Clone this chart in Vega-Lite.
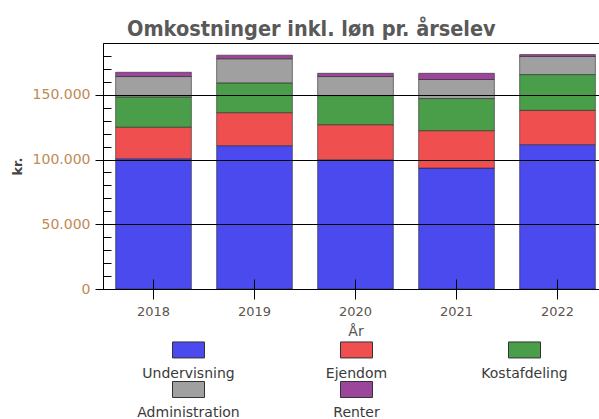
{
  "$schema": "https://vega.github.io/schema/vega-lite/v6.json",
  "autosize": {"type": "none"},
  "padding": {"left": 103, "top": 43, "right": 0, "bottom": 130},
  "width": 505,
  "height": 246,
  "background": "white",
  "title": {
    "text": "Omkostninger inkl. løn pr. årselev",
    "anchor": "start",
    "frame": "group",
    "dx": 24,
    "baseline": "alphabetic",
    "offset": -14,
    "font": "DejaVu Sans Condensed, DejaVu Sans",
    "fontSize": 21.5,
    "fontWeight": "bold",
    "color": "#595959"
  },
  "config": {
    "view": {"stroke": "#000", "strokeWidth": 1},
    "font": "DejaVu Sans"
  },
  "data": {
    "values": [
      {"year": "2018", "cat": "Undervisning", "ord": 1, "value": 100600},
      {"year": "2018", "cat": "Ejendom", "ord": 2, "value": 24400},
      {"year": "2018", "cat": "Kostafdeling", "ord": 3, "value": 23400},
      {"year": "2018", "cat": "Administration", "ord": 4, "value": 15700},
      {"year": "2018", "cat": "Renter", "ord": 5, "value": 3300},
      {"year": "2019", "cat": "Undervisning", "ord": 1, "value": 110700},
      {"year": "2019", "cat": "Ejendom", "ord": 2, "value": 25500},
      {"year": "2019", "cat": "Kostafdeling", "ord": 3, "value": 23000},
      {"year": "2019", "cat": "Administration", "ord": 4, "value": 18600},
      {"year": "2019", "cat": "Renter", "ord": 5, "value": 2800},
      {"year": "2020", "cat": "Undervisning", "ord": 1, "value": 99800},
      {"year": "2020", "cat": "Ejendom", "ord": 2, "value": 27100},
      {"year": "2020", "cat": "Kostafdeling", "ord": 3, "value": 22500},
      {"year": "2020", "cat": "Administration", "ord": 4, "value": 14700},
      {"year": "2020", "cat": "Renter", "ord": 5, "value": 2500},
      {"year": "2021", "cat": "Undervisning", "ord": 1, "value": 93400},
      {"year": "2021", "cat": "Ejendom", "ord": 2, "value": 28900},
      {"year": "2021", "cat": "Kostafdeling", "ord": 3, "value": 24800},
      {"year": "2021", "cat": "Administration", "ord": 4, "value": 14700},
      {"year": "2021", "cat": "Renter", "ord": 5, "value": 4800},
      {"year": "2022", "cat": "Undervisning", "ord": 1, "value": 111500},
      {"year": "2022", "cat": "Ejendom", "ord": 2, "value": 26500},
      {"year": "2022", "cat": "Kostafdeling", "ord": 3, "value": 27600},
      {"year": "2022", "cat": "Administration", "ord": 4, "value": 14000},
      {"year": "2022", "cat": "Renter", "ord": 5, "value": 1500}
    ]
  },
  "mark": {"type": "bar", "stroke": "#222", "strokeOpacity": 0.55, "strokeWidth": 1},
  "encoding": {
    "x": {
      "field": "year",
      "type": "nominal",
      "scale": {"paddingInner": 0.25, "paddingOuter": 0.125},
      "axis": {
        "title": "År",
        "titleFont": "DejaVu Sans",
        "titleFontSize": 14,
        "titleFontWeight": "normal",
        "titleColor": "#555",
        "titleBaseline": "alphabetic",
        "titleY": 56,
        "labelAngle": 0,
        "labelFont": "DejaVu Sans",
        "labelFontSize": 13,
        "labelColor": "#5e544c",
        "labelBaseline": "alphabetic",
        "labelPadding": 16,
        "domain": false,
        "offset": -10,
        "tickSize": 20,
        "tickColor": "#000",
        "zindex": 1
      }
    },
    "y": {
      "field": "value",
      "type": "quantitative",
      "stack": "zero",
      "scale": {"domain": [0, 190000], "nice": false},
      "axis": {
        "title": "kr.",
        "titleFont": "DejaVu Sans",
        "titleFontSize": 13,
        "titleFontWeight": "bold",
        "titleColor": "#444",
        "titleX": -86,
        "titleBaseline": "middle",
        "values": [0, 10000, 20000, 30000, 40000, 50000, 60000, 70000, 80000, 90000, 100000, 110000, 120000, 130000, 140000, 150000, 160000, 170000, 180000],
        "labelExpr": "datum.value % 50000 === 0 ? replace(format(datum.value, ','), ',', '.') : ''",
        "labelFont": "DejaVu Sans",
        "labelFontSize": 14,
        "labelColor": "#c08a55",
        "labelPadding": 5,
        "tickSize": {"condition": {"test": "datum.value % 50000 === 0", "value": 8}, "value": -8},
        "tickColor": "#000",
        "domainColor": "#000",
        "grid": true,
        "gridColor": "#000",
        "gridWidth": 1,
        "gridOpacity": {"condition": {"test": "datum.value % 50000 === 0", "value": 1}, "value": 0},
        "zindex": 1
      }
    },
    "color": {
      "field": "cat",
      "type": "nominal",
      "scale": {
        "domain": ["Undervisning", "Ejendom", "Kostafdeling", "Administration", "Renter"],
        "range": ["#4a4aee", "#f04f4f", "#4a9e4a", "#a0a0a0", "#9b469b"]
      },
      "legend": {
        "title": null,
        "orient": "none",
        "direction": "horizontal",
        "legendX": 77,
        "legendY": 298,
        "columns": 3,
        "gridAlign": "all",
        "columnPadding": 73,
        "rowPadding": -2,
        "symbolType": "M-2,-1H2V1H-2Z",
        "symbolSize": 256,
        "symbolStrokeColor": "#333",
        "symbolStrokeWidth": 1,
        "symbolOpacity": 1,
        "labelFont": "DejaVu Sans",
        "labelFontSize": 14,
        "labelColor": "#3a3a3a",
        "labelAlign": "center",
        "labelBaseline": "alphabetic",
        "labelOffset": -8.5,
        "labelLimit": 200,
        "encode": {
          "labels": {"update": {"dy": {"value": 27.6}}},
          "symbols": {"update": {"stroke": {"value": "#333"}, "strokeWidth": {"value": 1}}}
        }
      }
    },
    "order": {"field": "ord", "type": "quantitative", "sort": "ascending"}
  }
}
